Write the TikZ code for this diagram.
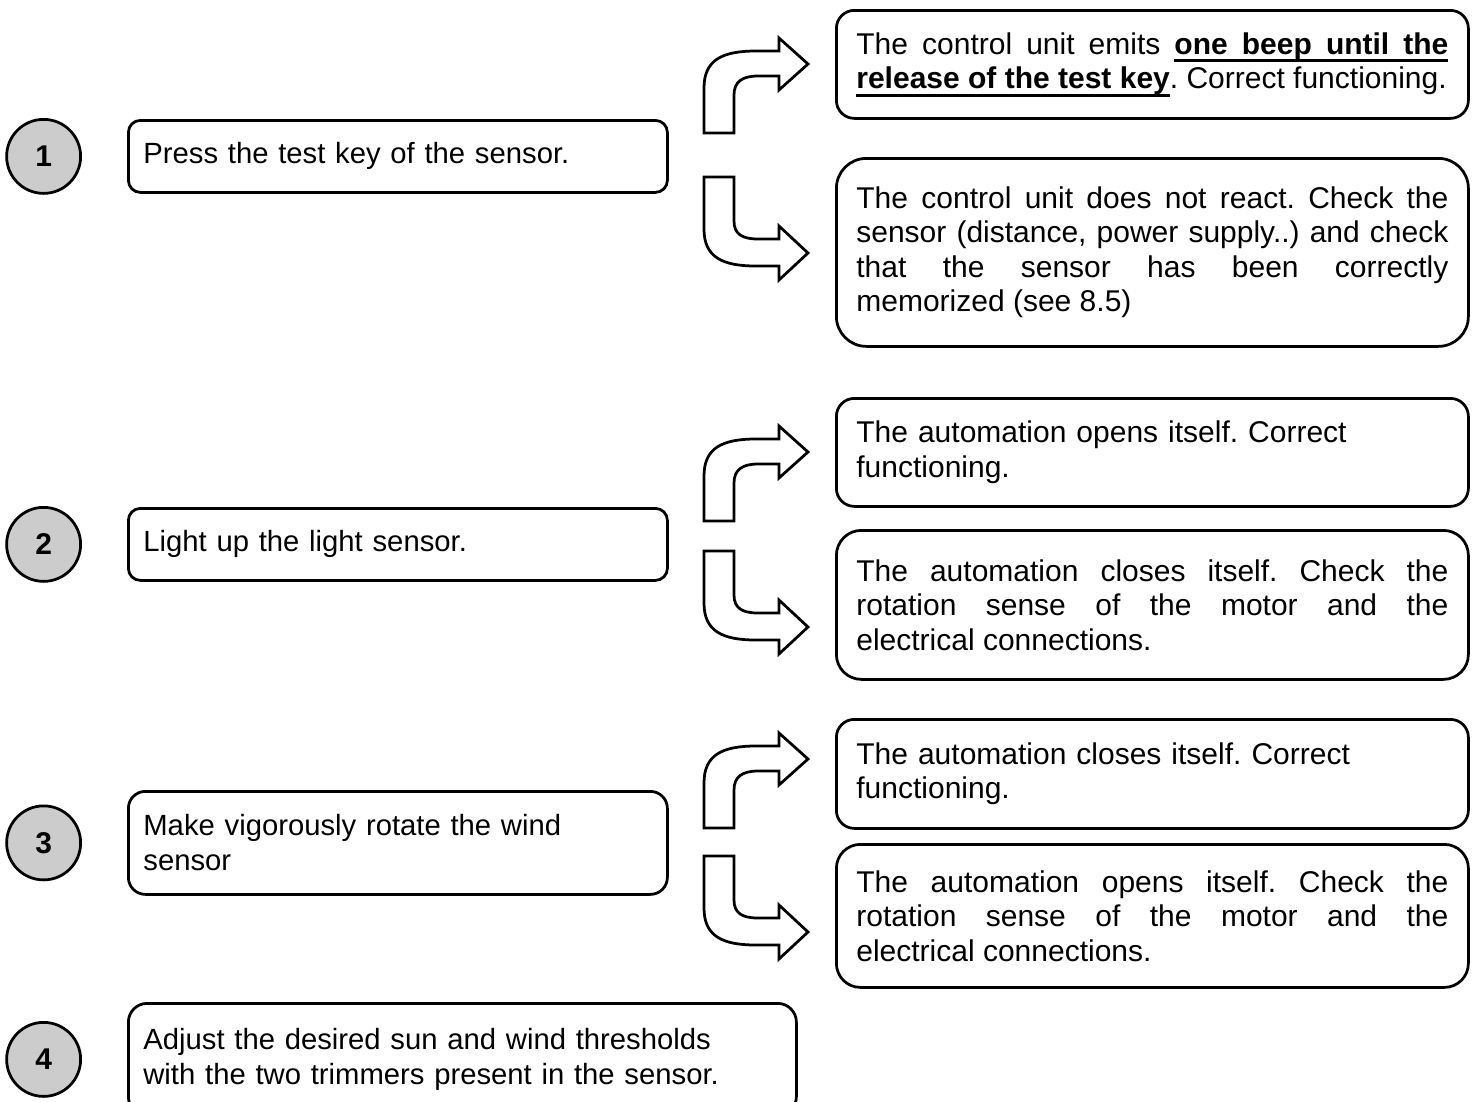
\documentclass[tikz,border=0pt]{standalone}
\usepackage{fontspec}
\setmainfont{Liberation Sans}
\usetikzlibrary{shapes,arrows,positioning}
% no hyphens, single spaces after full stops
\hyphenpenalty=10000
\exhyphenpenalty=10000
\frenchspacing
% underlined words and spaces that still break and stretch
\newcommand{\ulword}[1]{\leavevmode\setbox0\hbox{#1}\rlap{\rule[-3.2pt]{\wd0}{1.1pt}}\box0}
\newcommand{\ulspace}{\leaders\hrule height -2.1pt depth 3.2pt\hskip\fontdimen2\font plus\fontdimen3\font minus\fontdimen4\font}

\begin{document}
\begin{tikzpicture}[x=0.4pt, y=-0.4pt,
    block_step/.style ={rectangle, draw=black, line width=1.1pt, fill=white,
      text width=203.6pt, align=left, inner xsep=6pt, inner ysep=0pt,
      minimum width=215.6pt, anchor=north west, font=\fontsize{11.7pt}{14pt}\selectfont},
    block_result/.style ={rectangle, draw=black, line width=1.1pt, fill=white,
      text width=236.8pt, align=justify, inner xsep=8pt, inner ysep=0pt,
      minimum width=252.8pt, anchor=north west, font=\fontsize{12pt}{13.8pt}\selectfont\frenchspacing},
    block_num/.style ={circle, draw=black, line width=1.1pt, fill=gray!40,
      minimum size=29.6pt, inner sep=0pt, font=\fontsize{12pt}{13.8pt}\selectfont\bfseries},
    line/.style ={draw=black, line width=1.1pt, fill=white, line join=miter},
    arrow_up/.pic ={\path[line] (-104,69) -- (-104,24) .. controls (-104,-4) and (-86,-13) .. (-52,-13)
      -- (-29,-13) -- (-29,-26) -- (0,0) -- (-29,26) -- (-29,12) -- (-50,12)
      .. controls (-66,12) and (-74,18) .. (-74,31) -- (-74,69) -- cycle;},
    arrow_down/.pic ={\path[line] (-104,-76) -- (-104,-24) .. controls (-104,4) and (-86,13) .. (-52,13)
      -- (-29,13) -- (-29,27) -- (0,0) -- (-29,-27) -- (-29,-14) -- (-50,-14)
      .. controls (-66,-14) and (-74,-19) .. (-74,-32) -- (-74,-76) -- cycle;}]
    \useasboundingbox (0,0) rectangle (1473,1101);
    \clip (0,0) rectangle (1473,1101);
    % steps - left column
    \node [block_step, rounded corners=4.8pt, minimum height=28.8pt] (step1) at (127,119) {
      Press the test key of the sensor.};
    \node [block_step, rounded corners=4.8pt, minimum height=28.8pt] (step2) at (127,507) {
      Light up the light sensor.};
    \node [block_step, rounded corners=6.8pt, minimum height=41.2pt] (step3) at (127,790) {
      Make vigorously rotate the wind\\
      sensor};
    \node [block_step, rounded corners=7.5pt, minimum height=44.8pt, text width=255.2pt,
      minimum width=267.2pt] (step4) at (127,1002) {
      Adjust the desired sun and wind thresholds\\
      with the two trimmers present in the sensor.};
    % numbers
    \node [block_num, left=18pt of step1] (num1) {1};
    \node [block_num, left=18pt of step2] (num2) {2};
    \node [block_num, left=18pt of step3] (num3) {3};
    \node [block_num, left=18pt of step4] (num4) {4};
    % results - right column
    \node [block_result, rounded corners=7.2pt, minimum height=43.2pt] (result1a) at (835,9) {
      The control unit emits \textbf{\ulword{one}\ulspace\ulword{beep}\ulspace\ulword{until}\ulspace\ulword{the}\ulspace
      \ulword{release}\ulspace\ulword{of}\ulspace\ulword{the}\ulspace\ulword{test}\ulspace\ulword{key}}. Correct functioning.};
    \node [block_result, rounded corners=12pt, minimum height=75.2pt] (result1b) at (835,157) {
      The control unit does not react. Check the\linebreak sensor (distance, power supply..) and check\linebreak
      that the sensor has been correctly\linebreak memorized (see 8.5)};
    \node [block_result, rounded corners=7.2pt, minimum height=43.2pt, align=left] (result2a) at (835,397) {
      The automation opens itself. Correct\\ functioning.};
    \node [block_result, rounded corners=10pt, minimum height=59.6pt] (result2b) at (835,529) {
      The automation closes itself. Check the\linebreak rotation sense of the motor and the\linebreak
      electrical connections.};
    \node [block_result, rounded corners=7.2pt, minimum height=43.6pt, align=left] (result3a) at (835,718) {
      The automation closes itself. Correct\\ functioning.};
    \node [block_result, rounded corners=9.6pt, minimum height=57.2pt] (result3b) at (835,843) {
      The automation opens itself. Check the\linebreak rotation sense of the motor and the\linebreak
      electrical connections.};
    % arrow tips
    \coordinate (tip1a) at (808,64);
    \coordinate (tip1b) at (808,253);
    \coordinate (tip2a) at (808,452);
    \coordinate (tip2b) at (808,627);
    \coordinate (tip3a) at (808,759);
    \coordinate (tip3b) at (808,932);
    % curved arrows between the columns
    \pic at (tip1a) {arrow_up};
    \pic at (tip1b) {arrow_down};
    \pic at (tip2a) {arrow_up};
    \pic at (tip2b) {arrow_down};
    \pic at (tip3a) {arrow_up};
    \pic at (tip3b) {arrow_down};
  \end{tikzpicture}
\end{document}
